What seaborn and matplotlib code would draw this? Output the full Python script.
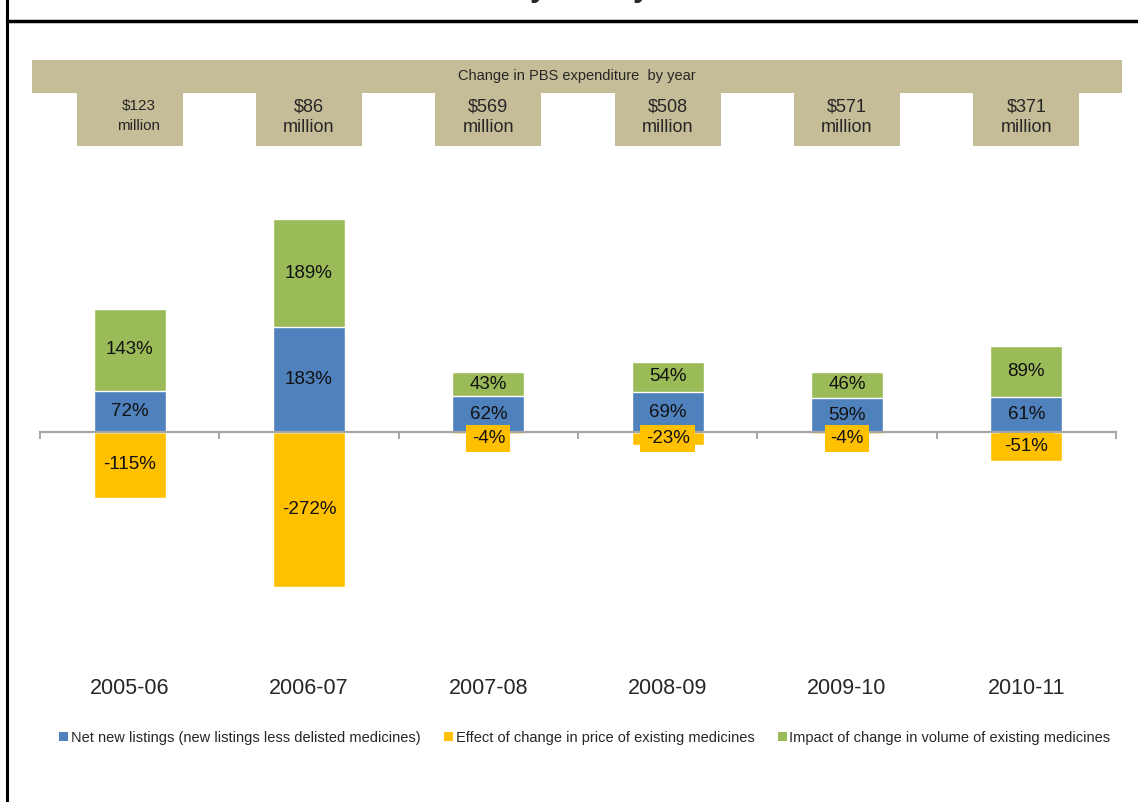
import matplotlib
matplotlib.use("Agg")
import matplotlib.pyplot as plt
import seaborn as sns
from matplotlib.patches import Rectangle, Patch
from matplotlib.lines import Line2D
from matplotlib.transforms import blended_transform_factory

# data
years = ["2005-06", "2006-07", "2007-08", "2008-09", "2009-10", "2010-11"]
net_new = [72, 183, 62, 69, 59, 61]
price = [-115, -272, -4, -23, -4, -51]
volume = [143, 189, 43, 54, 46, 89]
spend_change = ["$123\nmillion", "$86\nmillion", "$569\nmillion",
                "$508\nmillion", "$571\nmillion", "$371\nmillion"]
series_names = ["Net new listings (new listings less delisted medicines)",
                "Effect of change in price of existing medicines",
                "Impact of change in volume of existing medicines"]
header = "Change in PBS expenditure  by year"

BLUE = "#4F81BD"
YELLOW = "#FFC000"
GREEN = "#9BBB59"
TAN = "#C4BD97"
GREY = "#A6A6A6"

sns.set_theme(style="white")
plt.rcParams['font.family'] = ['Liberation Sans', 'DejaVu Sans']

W, H = 1138, 802
def fx(x):
    return x / W
def fy(y):
    return 1 - y / H

fig = plt.figure(figsize=(W / 100, H / 100), dpi=100)
ax = fig.add_axes([fx(40), fy(660), fx(1116) - fx(40), fy(150) - fy(660)])

totals = [b + g for b, g in zip(net_new, volume)]
sns.barplot(x=years, y=price, color=YELLOW, width=0.4, saturation=1, ax=ax)
sns.barplot(x=years, y=totals, color=GREEN, width=0.4, saturation=1, ax=ax)
sns.barplot(x=years, y=net_new, color=BLUE, width=0.4, saturation=1, ax=ax)

ax.set_xlim(-0.5, len(years) - 0.5)
ax.set_ylim(-399, 493)
ax.set_yticks([])
ax.set_xlabel("")
ax.set_ylabel("")
for s in ["top", "left", "right"]:
    ax.spines[s].set_visible(False)
ax.spines["bottom"].set_position(("data", 0))
ax.spines["bottom"].set_color(GREY)
ax.spines["bottom"].set_linewidth(1.6)
ax.set_xticks([i - 0.5 for i in range(len(years) + 1)])
ax.set_xticklabels([])
ax.tick_params(axis="x", direction="out", length=5, width=1.4, color=GREY, bottom=True)

# data labels
for i, (b, p, g) in enumerate(zip(net_new, price, volume)):
    ax.text(i, b / 2, f"{b}%", ha="center", va="center", fontsize=13.5, color="#111111")
    ax.text(i, b + g / 2, f"{g}%", ha="center", va="center", fontsize=13.5, color="#111111")
    ax.text(i, min(p / 2, -12), f"{p}%", ha="center", va="center", fontsize=13.5,
            color="#111111",
            bbox=dict(facecolor=YELLOW, edgecolor="none", pad=3.8))

# category labels at the bottom
xt = ax.get_xaxis_transform()
for i, yr in enumerate(years):
    ax.text(i, -0.055, yr, transform=xt, ha="center", va="center", fontsize=15.5)

# header bar with spending change per year
fig.add_artist(Rectangle((fx(32), fy(93)), fx(1122) - fx(32), fy(60) - fy(93),
                         transform=fig.transFigure, facecolor=TAN, edgecolor="none"))
fig.text(fx(577), fy(76), header, ha="center", va="center", fontsize=10.5)
trans = blended_transform_factory(ax.transData, fig.transFigure)
for i, lab in enumerate(spend_change):
    ax.add_patch(Rectangle((i - 0.295, fy(146)), 0.59, fy(93) - fy(146), transform=trans,
                           facecolor=TAN, edgecolor="none", clip_on=False))
    if i == 0:
        ax.text(i + 0.05, fy(116), lab, transform=trans, ha="center", va="center",
                fontsize=11, linespacing=1.55, clip_on=False)
    else:
        ax.text(i, fy(117), lab, transform=trans, ha="center", va="center",
                fontsize=13, linespacing=1.3, clip_on=False)

# legend
handles = [Patch(facecolor=c, edgecolor="none") for c in (BLUE, YELLOW, GREEN)]
fig.legend(handles, series_names, loc="center", bbox_to_anchor=(fx(585), fy(738)),
           ncol=3, frameon=False, handlelength=0.6, handleheight=0.6, handletextpad=0.2,
           columnspacing=1.6, prop={"size": 10.5})

# frame lines and the cut-off title above
fig.add_artist(Line2D([fx(7), fx(7)], [0, 1], color="black", lw=2.2))
fig.add_artist(Line2D([fx(7), 1], [fy(21), fy(21)], color="black", lw=2.5))
for xpos in (538, 641):
    fig.text(fx(xpos), 1.0 + 4 / H, "y", ha="center", va="baseline", fontsize=22,
             fontweight="bold")

fig.savefig("out.png", dpi=100)
